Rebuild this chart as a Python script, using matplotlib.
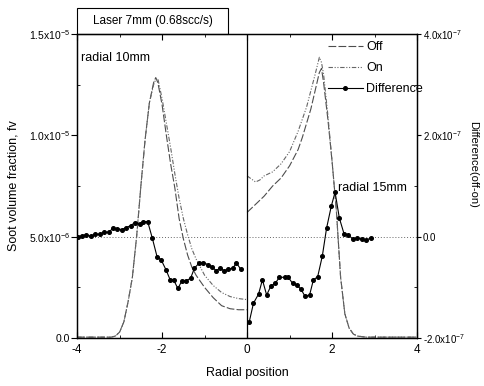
import numpy as np
import matplotlib
matplotlib.use("Agg")
import matplotlib.pyplot as plt
from matplotlib.patches import Rectangle
from matplotlib.ticker import FixedLocator, MultipleLocator

plt.rcParams['font.family'] = ['Liberation Sans', 'DejaVu Sans']
plt.rcParams['mathtext.fontset'] = 'custom'
plt.rcParams['mathtext.rm'] = 'Liberation Sans'
plt.rcParams['mathtext.it'] = 'Liberation Sans'

# radial 10mm (left half), soot volume fraction in 1e-6
x_left = [-4.0, -3.5, -3.2, -3.1, -3.0, -2.9, -2.8, -2.7, -2.6, -2.5, -2.4, -2.3, -2.2, -2.15,
          -2.1, -2.0, -1.9, -1.8, -1.7, -1.6, -1.5, -1.4, -1.3, -1.2, -1.1, -1.0, -0.9, -0.8,
          -0.6, -0.4, -0.2, 0.0]
off_left = [0.05, 0.05, 0.05, 0.1, 0.3, 0.8, 1.8, 3.0, 5.0, 7.5, 9.8, 11.6, 12.6, 12.85,
            12.6, 11.5, 10.0, 8.6, 7.4, 5.9, 4.9, 4.1, 3.5, 3.1, 2.8, 2.5, 2.25, 2.0,
            1.6, 1.45, 1.4, 1.4]
on_left = [0.05, 0.05, 0.05, 0.1, 0.3, 0.8, 1.8, 3.0, 5.0, 7.5, 9.8, 11.6, 12.5, 12.75,
           12.8, 11.8, 10.6, 9.4, 8.1, 6.9, 5.9, 5.1, 4.4, 3.9, 3.5, 3.1, 2.85, 2.6,
           2.25, 2.05, 1.95, 1.9]

# radial 15mm (right half)
x_right = [0.0, 0.1, 0.2, 0.3, 0.4, 0.6, 0.8, 1.0, 1.1, 1.2, 1.3, 1.4, 1.5, 1.6, 1.7, 1.75,
           1.8, 1.9, 2.0, 2.1, 2.2, 2.3, 2.4, 2.5, 2.6, 2.8, 3.0, 3.5, 4.0]
off_right = [6.2, 6.4, 6.6, 6.8, 7.0, 7.5, 7.9, 8.5, 8.9, 9.3, 9.9, 10.6, 11.3, 12.2, 13.1, 13.3,
             12.6, 10.8, 8.7, 6.3, 3.0, 1.2, 0.5, 0.2, 0.1, 0.05, 0.05, 0.05, 0.05]
on_right = [8.0, 7.85, 7.7, 7.8, 8.0, 8.2, 8.6, 9.2, 9.7, 10.2, 10.8, 11.4, 12.2, 13.0, 13.85, 13.6,
            13.0, 11.0, 8.7, 6.3, 3.0, 1.2, 0.5, 0.2, 0.1, 0.05, 0.05, 0.05, 0.05]

# difference (off-on), in 1e-7
x_diff_left = [-3.99, -3.89, -3.79, -3.68, -3.58, -3.47, -3.36, -3.26, -3.15, -3.05, -2.95,
               -2.85, -2.74, -2.64, -2.53, -2.44, -2.34, -2.23, -2.12, -2.02, -1.91, -1.81,
               -1.73, -1.63, -1.54, -1.44, -1.33, -1.24, -1.13, -1.03, -0.92, -0.83, -0.73,
               -0.64, -0.54, -0.44, -0.34, -0.25, -0.15]
diff_left = [-0.01, 0.02, 0.04, 0.01, 0.05, 0.05, 0.09, 0.09, 0.17, 0.16, 0.14,
             0.18, 0.22, 0.28, 0.26, 0.30, 0.30, -0.03, -0.39, -0.46, -0.65, -0.85,
             -0.85, -1.02, -0.88, -0.87, -0.82, -0.62, -0.52, -0.51, -0.55, -0.59, -0.67,
             -0.62, -0.67, -0.64, -0.62, -0.52, -0.64]
x_diff_right = [0.05, 0.15, 0.27, 0.36, 0.46, 0.56, 0.66, 0.76, 0.88, 0.97, 1.07, 1.17, 1.27,
                1.36, 1.47, 1.56, 1.66, 1.77, 1.87, 1.98, 2.07, 2.17, 2.28, 2.38, 2.49, 2.58,
                2.70, 2.80, 2.91]
diff_right = [-1.68, -1.31, -1.13, -0.85, -1.15, -0.97, -0.92, -0.80, -0.80, -0.80, -0.92, -0.95,
              -1.04, -1.17, -1.15, -0.85, -0.79, -0.38, 0.17, 0.60, 0.88, 0.37, 0.06, 0.04,
              -0.05, -0.03, -0.04, -0.06, -0.03]

fig = plt.figure(figsize=(4.85, 3.86), dpi=100)
ax = fig.add_axes([0.159, 0.124, 0.701, 0.788])
ax2 = ax.twinx()

off_style = dict(color='0.3', lw=0.8, ls=(0, (7, 2)))
on_style = dict(color='0.4', lw=0.8, ls=(0, (4, 1.5, 1, 1.5, 1, 1.5)))

l_off, = ax.plot(x_left, np.array(off_left) * 1e-6, **off_style, label='Off')
ax.plot(x_right, np.array(off_right) * 1e-6, **off_style)
l_on, = ax.plot(x_left, np.array(on_left) * 1e-6, **on_style, label='On')
ax.plot(x_right, np.array(on_right) * 1e-6, **on_style)

ax.axhline(5e-6, color='0.4', lw=0.7, ls=(0, (1, 2)))
ax.axvline(0, color='black', lw=0.9)

diff_style = dict(color='black', lw=0.8, marker='o', ms=2.6)
l_diff, = ax2.plot(x_diff_left, np.array(diff_left) * 1e-7, **diff_style, label='Difference')
ax2.plot(x_diff_right, np.array(diff_right) * 1e-7, **diff_style)

ax.set_xlim(-4, 4)
ax.set_ylim(0, 1.5e-5)
ax2.set_ylim(-2e-7, 4e-7)

ax.xaxis.set_major_locator(FixedLocator([-4, -2, 0, 2, 4]))
ax.xaxis.set_minor_locator(MultipleLocator(1))
ax.set_xticklabels(['-4', '-2', '0', '2', '4'])
ax.yaxis.set_major_locator(FixedLocator([0, 5e-6, 1e-5, 1.5e-5]))
ax.yaxis.set_minor_locator(MultipleLocator(2.5e-6))
ax.set_yticklabels(['0.0', r'5.0x10$^{-6}$', r'1.0x10$^{-5}$', r'1.5x10$^{-5}$'])
ax2.yaxis.set_major_locator(FixedLocator([-2e-7, 0, 2e-7, 4e-7]))
ax2.yaxis.set_minor_locator(MultipleLocator(1e-7))
ax2.set_yticklabels([r'-2.0x10$^{-7}$', '0.0', r'2.0x10$^{-7}$', r'4.0x10$^{-7}$'])

ax.tick_params(axis='x', which='both', direction='in', top=True, labelsize=8.5, pad=4)
ax.tick_params(axis='x', which='major', length=4)
ax.tick_params(axis='x', which='minor', length=2)
ax.tick_params(axis='y', which='major', direction='out', length=4, labelsize=7.5, pad=1)
ax.tick_params(axis='y', which='minor', direction='in', length=2)
ax2.tick_params(axis='y', which='major', direction='out', length=3, labelsize=7, pad=1)
ax2.tick_params(axis='y', which='minor', direction='in', length=2)
for a in (ax, ax2):
    for s in a.spines.values():
        s.set_linewidth(0.9)

ax.set_xlabel('Radial position', fontsize=9, labelpad=8)
ax.set_ylabel('Soot volume fraction, fv', fontsize=9)
ax.yaxis.set_label_coords(-0.17, 0.5)
ax2.set_ylabel('Difference(off-on)', fontsize=8, rotation=-90, va='center')
ax2.yaxis.set_label_coords(1.165, 0.57)

ax.text(-3.9, 1.38e-5, 'radial 10mm', fontsize=9, va='center')
ax.text(2.15, 7.4e-6, 'radial 15mm', fontsize=9, va='center')

ax.add_patch(Rectangle((0, 1.0), 0.444, 0.086, transform=ax.transAxes, fill=False,
                       lw=0.8, ec='black', clip_on=False))
ax.text(0.222, 1.043, 'Laser 7mm (0.68scc/s)', transform=ax.transAxes,
        ha='center', va='center', fontsize=8.5)

ax2.legend(handles=[l_off, l_on, l_diff], loc='upper right', bbox_to_anchor=(1.04, 1.0),
           frameon=False, fontsize=9, handlelength=2.8, handletextpad=0.3,
           labelspacing=0.7, borderaxespad=0.2)

fig.savefig('out.png', dpi=100)
